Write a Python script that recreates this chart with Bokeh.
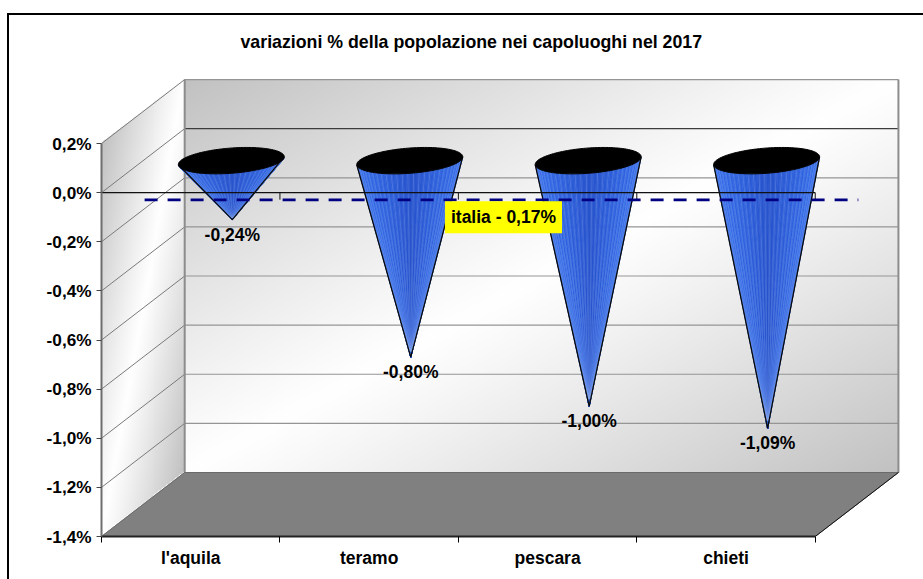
import numpy as np
from bokeh.plotting import figure
from bokeh.models import (Range1d, LinearAxis, FixedTicker, Label)
from bokeh.core.properties import value
from bokeh.embed import file_html
from bokeh.resources import INLINE

# ---- data
categories = ["l'aquila", "teramo", "pescara", "chieti"]
variations = [-0.24, -0.80, -1.00, -1.09]
value_labels = ["-0,24%", "-0,80%", "-1,00%", "-1,09%"]
y_ticks = [-1.4, -1.2, -1.0, -0.8, -0.6, -0.4, -0.2, 0.0, 0.2]
y_tick_labels = ["-1,4%", "-1,2%", "-1,0%", "-0,8%", "-0,6%", "-0,4%", "-0,2%", "0,0%", "0,2%"]
italia_line = -0.16
italia_label = "italia - 0,17%"
title_text = "variazioni % della popolazione nei capoluoghi nel 2017"

# ---- geometry of the pseudo-3D box
MX, MY, BORDER = 7, 13, 2
W, H = 923 - MX, 579 - MY
LEFT, TOP, BOTTOM = 92, 43, 45
PX_X = 178.0                         # px per category
PX_Y = 245.6                         # px per 100% point
DX = 83.0 / PX_X                     # depth shift, data units
DY = 64.0 / PX_Y
FONT = "Liberation Sans"
x0, x1 = 0.0, 4.0
y0, y1 = y_ticks[0], y_ticks[-1]

p = figure(width=W, height=H, output_backend="svg", toolbar_location=None,
           x_range=Range1d(0, (W - BORDER - LEFT) / PX_X),
           y_range=Range1d(y0, y0 + (H - TOP - BOTTOM) / PX_Y),
           x_axis_type=None, y_axis_type=None,
           min_border_left=LEFT, min_border_right=0, min_border_top=TOP, min_border_bottom=BOTTOM)
p.margin = (MY, 0, 0, MX)
p.styles = {"border-top": "2px solid #000000", "border-left": "2px solid #000000"}
p.outline_line_color = None
p.grid.visible = False
p.background_fill_color = "white"
p.border_fill_color = "white"

# ---- axes
yax = LinearAxis(ticker=FixedTicker(ticks=y_ticks),
                 major_label_overrides=dict(zip(y_ticks, y_tick_labels)),
                 bounds=(y0, y1), axis_line_color="#6e6e6e", axis_line_width=2,
                 major_tick_in=0, major_tick_out=5, major_tick_line_color="#444444",
                 minor_tick_line_color=None, major_label_standoff=5,
                 major_label_text_font=FONT, major_label_text_font_style="bold",
                 major_label_text_font_size="17.2px", major_label_text_color="black")
p.add_layout(yax, "left")
centres = [i + 0.5 for i in range(len(categories))]
xax = LinearAxis(ticker=FixedTicker(ticks=centres, minor_ticks=list(range(len(categories) + 1))),
                 major_label_overrides=dict(zip(centres, categories)),
                 bounds=(x0, x1), axis_line_color="#222222", axis_line_width=2,
                 major_tick_in=0, major_tick_out=0, minor_tick_in=0, minor_tick_out=6,
                 minor_tick_line_color="black", major_label_standoff=5,
                 major_label_text_font=FONT, major_label_text_font_style="bold",
                 major_label_text_font_size="17.5px", major_label_text_color="black")
p.add_layout(xax, "below")

p.title.text = title_text
p.title.text_font = FONT
p.title.text_font_style = "bold"
p.title.text_font_size = "17.75px"
p.title.text_color = "black"
p.title.align = "left"
p.title.offset = 139
p.title.standoff = 14

# ---- wall shading
def shade(u):
    return 255 - 62 * np.abs(2 * u - 1) ** 1.1

# back wall
bw, bh = 713, 393
xx, yy = np.meshgrid((np.arange(bw) + .5) / bw, (np.arange(bh) + .5) / bh)
g = shade((xx + yy) / 2).astype(np.uint32)
img = (255 << 24) | (g << 16) | (g << 8) | g
p.image_rgba(image=[np.flipud(img)], x=x0 + DX, y=y0 + DY, dw=x1 - x0, dh=y1 - y0)

# side wall (sheared)
sw, sh = 84, 458
xx, yy = np.meshgrid((np.arange(sw) + .5) / sw, (np.arange(sh) + .5) / sh)
top_edge = 64 * (1 - xx) / 458.0
ysheared = (yy - top_edge) / (393.0 / 458.0)
mask = (ysheared >= 0) & (ysheared <= 1)
g = shade((xx + np.clip(ysheared, 0, 1)) / 2).astype(np.uint32)
img = (mask.astype(np.uint32) * 255 << 24) | (g << 16) | (g << 8) | g
p.image_rgba(image=[np.flipud(img)], x=x0, y=y0, dw=DX, dh=(y1 - y0) + DY)

# ---- grid lines
back_y = [v + DY for v in y_ticks]
back_c = ["#3c3c3c" if v == 0 else "#959595" for v in y_ticks]
p.segment(x0=x0 + DX, x1=x1 + DX, y0=back_y, y1=back_y, line_color=back_c, line_width=1.2)
p.segment(x0=x0, x1=x0 + DX, y0=y_ticks, y1=back_y, line_color="#7a7a7a", line_width=1)
p.segment(x0=[x0 + DX, x1 + DX], x1=[x0 + DX, x1 + DX], y0=y0 + DY, y1=y1 + DY,
          line_color="#8c8c8c", line_width=2)

# ---- floor
p.patch(x=[x0, x1, x1 + DX, x0 + DX], y=[y0, y0, y0 + DY, y0 + DY],
        fill_color="#808080", line_color="#6a6a6a", line_width=1)
p.segment(x0=x1, x1=x1 + DX, y0=y0, y1=y0 + DY, line_color="#111111", line_width=1)

# ---- cones
PHI = np.deg2rad(4.4)
def pt(t):
    # ellipse point in px offset from its centre (px down positive)
    a, b = 53.0, 12.6
    ex = a * np.cos(t) * np.cos(PHI) + b * np.sin(t) * np.sin(PHI)
    ey = -a * np.cos(t) * np.sin(PHI) + b * np.sin(t) * np.cos(PHI)
    return ex, ey

for i, v in enumerate(variations):
    cx = centres[i] + DX / 2 - 1.0 / PX_X
    cy = DY / 2
    ax, ay = centres[i] + DX / 2, v + DY / 2
    ts = np.linspace(0.08, np.pi - 0.08, 56)
    ex, ey = pt(ts)
    bx = cx + ex / PX_X
    by = cy - ey / PX_Y
    fx, fy, fc = [], [], []
    for k in range(len(ts) - 1):
        fx.append([ax, bx[k], bx[k + 1]])
        fy.append([ay, by[k], by[k + 1]])
        m = abs(np.cos((ts[k] + ts[k + 1]) / 2))
        fc.append("#%02x%02x%02x" % (int(40 + 14 * m), int(84 + 26 * m), int(205 + 30 * m)))
    p.patches(fx, fy, fill_color=fc, line_color=fc, line_width=0.6)
    # pale seams of the faceted surface
    seam_t = np.linspace(0.12, np.pi - 0.12, 28)
    sx, sy = pt(seam_t)
    sbx = cx + sx / PX_X
    sby = cy - sy / PX_Y
    frac = 0.97
    p.segment(x0=sbx, y0=sby, x1=sbx + (ax - sbx) * frac, y1=sby + (ay - sby) * frac,
              line_color="#9db8f5", line_width=0.8, line_alpha=0.35)
    lx, ly = pt(0.0)
    rx, ry = pt(np.pi)
    p.line([cx + lx / PX_X, ax, cx + rx / PX_X], [cy - ly / PX_Y, ay, cy - ry / PX_Y],
           line_color="#0a0a0a", line_width=1.3)
    t = np.linspace(0, 2 * np.pi, 120)
    ex, ey = pt(t)
    p.patch(cx + ex / PX_X, cy - ey / PX_Y, fill_color="black", line_color="black", line_width=1)

# ---- zero line on top, with its ticks
p.line([x0, x1], [0, 0], line_color="#111111", line_width=1.4)
boundaries = list(range(len(categories) + 1))
p.segment(x0=boundaries, x1=boundaries, y0=0, y1=-7 / PX_Y, line_color="#111111", line_width=1)

# ---- italia line
p.line([x0 + DX / 2 + 1.5 / PX_X, x1 + DX / 2 + 1.5 / PX_X], [italia_line + DY / 2] * 2,
       line_color="#000080", line_width=2.8, line_dash="13 10")

# ---- data labels
p.text(x=[c + DX / 2 for c in centres], y=[v + DY / 2 for v in variations], text=value_labels,
       y_offset=15, text_align="center", text_baseline="middle",
       text_font=value(FONT), text_font_style="bold", text_font_size="17.5px", text_color="black")

p.add_layout(Label(x=(504 - 103) / PX_X, y=-(217 - 192.3) / PX_Y, text=italia_label,
                   text_align="center", text_baseline="middle",
                   text_font=FONT, text_font_style="bold", text_font_size="17.5px", text_color="black",
                   background_fill_color="#ffff00", padding=(6, 6)))

open("out.html", "w").write(file_html(p, INLINE))
